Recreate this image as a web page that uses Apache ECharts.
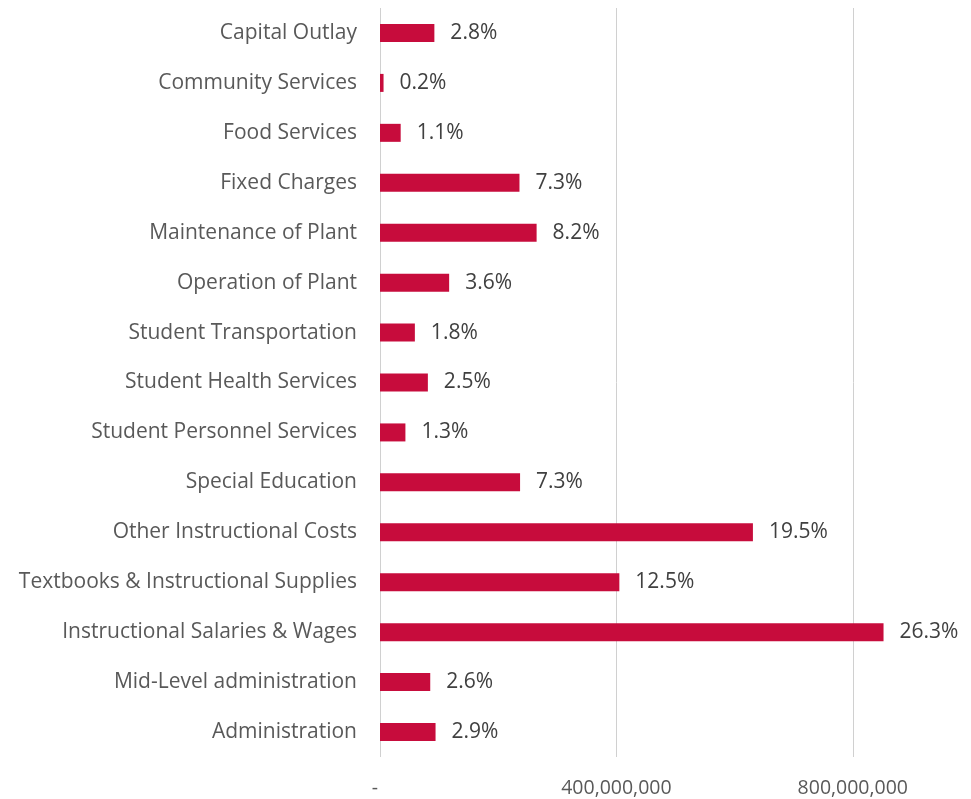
<!DOCTYPE html>
<html>
<head>
<meta charset="utf-8">
<title>Expenditures by category</title>
<script src="https://cdn.jsdelivr.net/npm/echarts@6/dist/echarts.min.js"></script>
<style>
  html, body { margin: 0; padding: 0; background: #fff; }
  #chart { width: 971px; height: 799px; }
</style>
</head>
<body>
<div id="chart"></div>
<script>
  // categories, top to bottom as drawn
  var categories = [
    'Capital Outlay',
    'Community Services',
    'Food Services',
    'Fixed Charges',
    'Maintenance of Plant',
    'Operation of Plant',
    'Student Transportation',
    'Student Health Services',
    'Student Personnel Services',
    'Special Education',
    'Other Instructional Costs',
    'Textbooks & Instructional Supplies',
    'Instructional Salaries & Wages',
    'Mid-Level administration',
    'Administration'
  ];
  // amounts
  var amounts = [
    92000000, 6000000, 35000000, 236000000, 265000000,
    117000000, 59000000, 81000000, 43000000, 237000000,
    631000000, 405000000, 852000000, 85000000, 94000000
  ];
  // share labels shown beside the bars
  var shares = [
    '2.8%', '0.2%', '1.1%', '7.3%', '8.2%',
    '3.6%', '1.8%', '2.5%', '1.3%', '7.3%',
    '19.5%', '12.5%', '26.3%', '2.6%', '2.9%'
  ];

  var fontFamily = '"Open Sans", sans-serif';

  var myChart = echarts.init(document.getElementById('chart'));
  var option = {
    animation: false,
    grid: {
      left: 380,
      top: 8,
      width: 591,
      height: 749,
      containLabel: false
    },
    xAxis: {
      type: 'value',
      min: 0,
      max: 1000000000,
      interval: 400000000,
      axisLine: { show: false },
      axisTick: { show: false },
      splitLine: { lineStyle: { color: '#d0d0d0', width: 1 } },
      axisLabel: {
        showMaxLabel: false,
        margin: 21,
        color: '#595959',
        fontSize: 19.5,
        fontFamily: fontFamily,
        formatter: function (v) {
          if (v === 0) return '-  ';
          return v.toLocaleString('en-US');
        }
      }
    },
    yAxis: {
      type: 'category',
      inverse: true,
      data: categories,
      axisLine: { show: false },
      axisTick: { show: false },
      axisLabel: {
        margin: 23,
        color: '#595959',
        fontSize: 21,
        fontFamily: fontFamily
      }
    },
    series: [
      {
        type: 'bar',
        data: amounts,
        barWidth: 18,
        itemStyle: { color: '#C70C3C' },
        label: {
          show: true,
          position: 'right',
          distance: 16,
          color: '#404040',
          fontSize: 21,
          fontFamily: fontFamily,
          formatter: function (p) {
            return shares[p.dataIndex];
          }
        }
      }
    ]
  };
  myChart.setOption(option);
</script>
</body>
</html>
